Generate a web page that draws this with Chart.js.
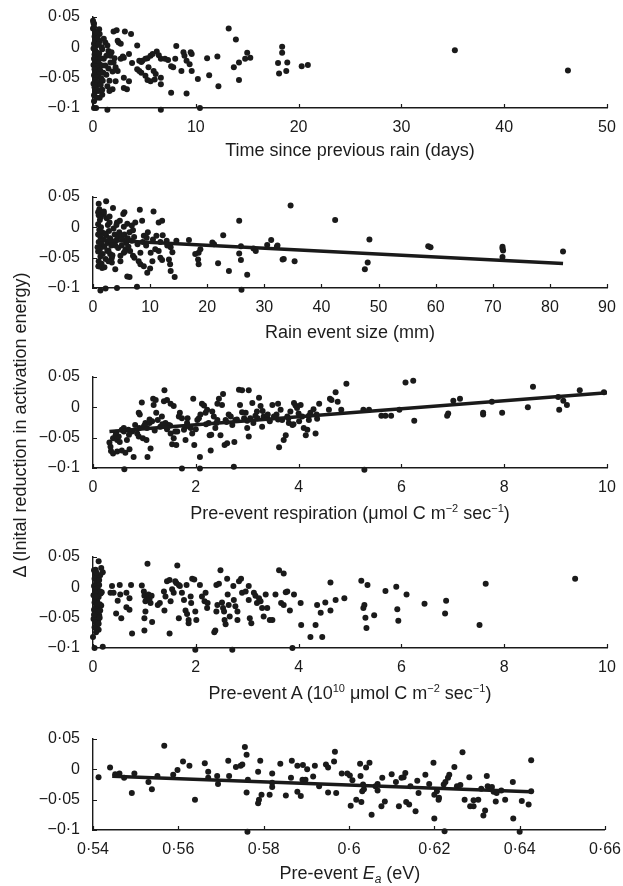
<!DOCTYPE html>
<html>
<head>
<meta charset="utf-8">
<script src="https://cdn.jsdelivr.net/npm/chart.js@4.4.1/dist/chart.umd.min.js"></script>
<style>
  html, body { margin: 0; padding: 0; background: #fff; }
  body { width: 623px; height: 886px; position: relative; overflow: hidden;
         font-family: "Liberation Sans", Arial, sans-serif; color: #1d1d1d; }
  canvas { position: absolute; left: 0; }
  .xtitle { position: absolute; left: 93px; width: 514px; height: 22px; line-height: 22px;
            text-align: center; font-size: 18px; white-space: nowrap; }
  .xtitle sup { font-size: 11px; vertical-align: 7px; line-height: 0; }
  .xtitle sub { font-size: 12px; vertical-align: -4px; line-height: 0; }
  .ytitle { position: absolute; left: -190px; top: 414px; width: 420px; height: 22px; line-height: 22px;
            text-align: center; font-size: 18px; white-space: nowrap; transform: rotate(-90deg); }
</style>
</head>
<body>
<canvas id="c1" width="623" height="180" style="top:0px"></canvas>
<canvas id="c2" width="623" height="180" style="top:180px"></canvas>
<canvas id="c3" width="623" height="180" style="top:360px"></canvas>
<canvas id="c4" width="623" height="180" style="top:540px"></canvas>
<canvas id="c5" width="623" height="180" style="top:722px"></canvas>

<div class="xtitle" style="top:139px">Time since previous rain (days)</div>
<div class="xtitle" style="top:321px">Rain event size (mm)</div>
<div class="xtitle" style="top:502px">Pre-event respiration (μmol C m<sup>−2</sup> sec<sup>−1</sup>)</div>
<div class="xtitle" style="top:682px">Pre-event A (10<sup>10</sup> μmol C m<sup>−2</sup> sec<sup>−1</sup>)</div>
<div class="xtitle" style="top:862px">Pre-event <i>E</i><sub><i>a</i></sub> (eV)</div>
<div class="ytitle">Δ (Inital reduction in activation energy)</div>

<script>
// Cinco paneles de dispersión que comparten el eje Y (reducción inicial de Ea).
var yTicks = [-0.1, -0.05, 0, 0.05];

// ---- Panel 1: días desde la lluvia anterior ----
var gapTicks = [0, 10, 20, 30, 40, 50];
var gapPoints = [
  [0.0,0.044],[0.1,0.039],[0.0,0.031],[0.2,0.025],[0.65,0.022],[0.55,0.011],[1.05,0.014],[1.2,0.008],[1.4,0.003],[0.9,-0.003],
  [1.5,-0.006],[1.3,-0.014],[1.05,-0.019],[1.7,-0.014],[2.0,0.026],[2.3,0.028],[3.1,0.026],[3.7,0.022],[2.5,0.008],[2.7,0.006],
  [2.4,0.011],[4.3,0.003],[3.5,-0.011],[3.8,-0.026],[3.0,-0.017],[2.7,-0.019],[2.9,-0.015],[2.2,-0.033],[2.0,-0.025],[2.4,-0.039],
  [2.2,-0.056],[3.0,-0.05],[3.5,-0.056],[3.3,-0.069],[3.0,-0.067],[1.9,-0.069],[1.6,-0.072],[1.4,-0.064],[0.9,-0.078],[0.65,-0.083],
  [0.55,-0.072],[1.4,-0.103],[0.1,-0.1],[0.3,-0.1],[4.5,-0.022],[4.7,-0.024],[4.8,-0.022],[5.1,-0.019],[5.3,-0.018],[5.6,-0.014],
  [5.8,-0.011],[6.2,-0.007],[6.4,-0.013],[4.3,-0.036],[4.5,-0.039],[4.7,-0.042],[5.1,-0.047],[5.3,-0.054],[5.6,-0.056],[6.0,-0.053],
  [6.1,-0.044],[6.6,-0.05],[6.6,-0.061],[5.4,-0.033],[5.9,-0.039],[6.6,-0.103],[6.6,-0.019],[7.0,-0.019],[7.3,-0.021],[7.6,-0.031],
  [7.8,-0.033],[8.0,-0.019],[8.1,0.002],[8.6,-0.039],[8.8,-0.008],[8.9,-0.014],[9.1,-0.022],[9.4,-0.028],[9.6,-0.011],[9.5,-0.008],
  [9.6,-0.039],[7.6,-0.075],[9.1,-0.076],[10.2,-0.052],[10.4,-0.1],[11.1,-0.018],[11.3,-0.046],[12.1,-0.015],[12.2,-0.064],[13.2,0.031],
  [13.9,0.013],[13.7,-0.033],[14.2,-0.025],[14.2,-0.054],[14.8,-0.019],[15.0,-0.009],[15.3,-0.017],[18.0,-0.026],[18.4,-0.009],[18.4,0.001],
  [18.9,-0.025],[18.1,-0.043],[18.8,-0.039],[20.3,-0.031],[20.9,-0.029],[35.2,-0.005],[46.2,-0.038],
  [0.05,0.04],[0.1,0.033],[0.15,0.018],[0.2,0.012],[0.1,0.006],[0.3,0.002],[0.05,-0.002],[0.25,-0.006],[0.4,-0.009],[0.15,-0.012],
  [0.35,-0.016],[0.1,-0.019],[0.5,-0.021],[0.2,-0.024],[0.6,-0.027],[0.05,-0.029],[0.3,-0.031],[0.45,-0.034],[0.15,-0.036],[0.7,-0.038],
  [0.25,-0.041],[0.55,-0.044],[0.1,-0.046],[0.35,-0.049],[0.8,-0.051],[0.2,-0.054],[0.5,-0.057],[0.05,-0.06],[0.3,-0.063],[0.15,-0.066],
  [0.4,-0.07],[0.2,-0.074],[0.1,-0.079],[0.35,-0.083],[0.1,-0.089],[0.6,-0.01],[0.75,-0.018],[0.9,-0.03],[0.65,0.01],[0.85,0.0],
  [1.0,-0.042],[0.95,-0.055],[0.75,-0.062],[0.45,0.015],[0.6,0.03],[1.2,-0.03],[1.3,-0.045],[1.5,-0.035],[1.7,-0.025],[1.9,-0.04],
  [2.1,-0.018],[1.6,-0.055],[1.8,-0.008],[0.55,0.005],[0.3,0.025],[0.9,-0.07]
];

// ---- Panel 2: tamaño del evento de lluvia ----
var sizeTicks = [0, 10, 20, 30, 40, 50, 60, 70, 80, 90];
var sizeFit = [[1, -0.0205], [82.3, -0.0595]];
var sizePoints = [
  [1.0,0.039],[2.3,0.043],[0.9,0.025],[1.9,0.022],[3.5,0.032],[5.5,0.025],[5.3,0.022],[8.2,0.029],[10.6,0.026],[8.6,0.011],
  [7.4,0.008],[11.5,0.008],[12.1,0.011],[4.2,0.008],[4.7,0.011],[6.0,0.006],[6.8,0.003],[8.9,-0.014],[9.6,-0.008],[9.4,-0.017],
  [11.1,-0.014],[12.2,-0.013],[12.9,-0.022],[14.6,-0.022],[16.8,-0.021],[20.9,-0.025],[22.8,-0.013],[25.6,0.011],[25.9,-0.031],[25.6,-0.043],
  [25.9,-0.054],[26.0,-0.103],[21.9,-0.059],[23.8,-0.072],[27.0,-0.078],[28.1,-0.035],[28.5,-0.039],[30.5,-0.029],[31.2,-0.021],[32.2,-0.032],
  [33.2,-0.053],[34.6,0.036],[35.3,-0.056],[21.2,-0.028],[18.5,-0.042],[18.4,-0.053],[18.5,-0.061],[18.8,-0.036],[17.9,-0.044],[13.6,-0.033],
  [13.9,-0.041],[13.5,-0.061],[13.6,-0.072],[14.3,-0.082],[13.3,-0.053],[11.8,-0.05],[12.1,-0.054],[11.5,-0.039],[10.9,-0.036],[10.1,-0.042],
  [10.4,-0.056],[10.0,-0.068],[9.5,-0.075],[8.9,-0.064],[8.3,-0.061],[8.0,-0.056],[7.25,-0.05],[7.0,-0.047],[7.7,-0.098],[6.0,-0.081],
  [6.4,-0.082],[4.2,-0.1],[2.2,-0.101],[1.3,-0.104],[3.9,-0.069],[3.3,-0.058],[2.7,-0.056],[8.3,-0.042],[6.5,-0.039],[5.7,-0.036],
  [5.4,-0.042],[4.8,-0.047],[3.3,-0.05],[3.0,-0.044],[2.5,-0.039],[4.8,-0.056],[1.0,-0.064],[1.2,-0.061],[1.6,-0.067],
  [42.4,0.012],[48.4,-0.02],[48.1,-0.058],[47.6,-0.069],[58.7,-0.031],[59.1,-0.033],[71.7,-0.032],[71.7,-0.035],[71.8,-0.038],[71.7,-0.049],
  [82.3,-0.04],[32.3,-0.03],[33.4,-0.052],
  [1.0,0.02],[1.2,0.012],[0.9,0.005],[1.4,0.0],[1.1,-0.004],[1.6,-0.008],[0.9,-0.012],[1.3,-0.016],[1.8,-0.02],[1.0,-0.024],
  [1.5,-0.028],[2.0,-0.032],[1.2,-0.036],[0.9,-0.04],[1.7,-0.044],[1.3,-0.048],[2.2,-0.052],[1.0,-0.056],[1.5,-0.06],[2.4,0.015],
  [2.6,0.004],[2.8,-0.006],[2.3,-0.014],[3.0,-0.018],[2.5,-0.026],[3.2,-0.03],[2.7,-0.038],[3.4,-0.046],[2.9,0.008],[3.6,-0.002],
  [3.8,-0.012],[4.0,-0.022],[4.3,-0.016],[4.6,-0.008],[4.9,-0.014],[5.2,-0.02],[5.5,-0.012],[5.8,-0.026],[6.1,-0.018],[6.4,-0.008],
  [6.8,-0.022],[7.2,-0.016],[3.9,-0.03],[4.4,-0.034],[5.0,-0.03],[5.6,-0.04],[6.2,-0.032],[1.1,0.03],[1.9,0.026],[2.9,0.018],
  [3.3,-0.025],[0.8,-0.033],[1.4,0.017],[2.1,-0.01],[0.95,-0.064],[1.2,-0.062],[2.0,-0.066],[4.1,0.004],[5.4,0.001],[7.0,-0.005],
  [7.8,-0.028],[8.7,-0.024],[9.3,-0.03],[10.5,-0.02],[11.8,-0.024],[13.0,-0.03]
];

// ---- Panel 3: respiración previa ----
var respTicks = [0, 2, 4, 6, 8, 10];
var respFit = [[0.32, -0.040], [10, 0.024]];
var respPoints = [
  [0.32,-0.058],[0.35,-0.072],[0.39,-0.076],[0.47,-0.073],[0.34,-0.065],[0.39,-0.051],[0.44,-0.046],[0.47,-0.054],[0.5,-0.048],[0.52,-0.057],
  [0.56,-0.071],[0.61,-0.102],[0.63,-0.075],[0.66,-0.054],[0.71,-0.069],[0.79,-0.082],[0.56,-0.037],[0.6,-0.034],[0.69,-0.037],[0.76,-0.04],
  [0.82,-0.029],[0.86,-0.043],[0.89,-0.048],[0.91,-0.012],[0.89,-0.009],[0.95,0.008],[0.99,-0.032],[1.02,-0.026],[1.05,-0.034],[0.97,-0.051],
  [1.04,-0.054],[1.06,-0.082],[1.12,-0.068],[1.1,-0.026],[1.15,-0.023],[1.18,0.004],[1.17,0.014],[1.22,0.012],[1.23,-0.009],[1.26,-0.021],
  [1.31,-0.032],[1.34,-0.015],[1.39,0.028],[1.38,0.01],[1.44,0.012],[1.51,0.006],[1.57,0.002],[1.41,-0.026],[1.44,-0.036],[1.47,-0.029],
  [1.51,-0.043],[1.57,-0.051],[1.54,-0.061],[1.62,-0.062],[1.64,-0.04],[1.67,-0.015],[1.69,-0.009],[1.73,-0.018],[1.73,-0.101],[1.77,-0.037],
  [1.8,-0.054],[1.83,-0.026],[1.84,-0.018],[1.9,-0.034],[1.93,-0.043],[1.95,0.014],[1.97,-0.062],[2.03,-0.021],[2.06,-0.018],[2.08,-0.082],
  [2.08,-0.101],[2.09,-0.012],[2.12,0.006],[2.16,0.003],[2.19,-0.009],[2.22,-0.004],[2.25,-0.026],[2.27,-0.046],[2.29,-0.071],[2.32,-0.007],
  [2.35,-0.015],[2.38,-0.034],[2.42,-0.021],[2.42,0.006],[2.45,0.014],[2.48,-0.046],[2.51,0.004],[2.53,0.022],[2.56,-0.062],[2.58,-0.021],
  [2.61,-0.059],[2.64,-0.012],[2.68,-0.015],[2.71,-0.029],[2.74,-0.098],[2.75,-0.057],[2.77,-0.021],[2.84,0.029],[2.86,0.004],[2.9,0.028],
  [3.03,0.028],[2.97,-0.009],[2.94,-0.018],[3.0,-0.034],[3.03,-0.048],[3.06,-0.018],[3.1,0.007],[3.12,-0.026],[3.16,-0.014],[3.19,-0.007],
  [3.23,0.016],[3.26,0.002],[3.29,-0.032],[3.32,-0.015],[3.39,-0.018],[3.44,-0.023],[3.49,0.004],[3.52,-0.015],[3.57,-0.012],[3.6,0.006],
  [3.62,-0.066],[3.65,-0.004],[3.68,-0.021],[3.71,-0.054],[3.75,-0.046],[3.78,-0.015],[3.81,-0.026],[3.84,-0.007],[3.88,-0.029],[3.91,0.007],
  [3.94,0.003],[3.97,-0.001],[4.01,-0.023],[4.04,0.004],[4.07,-0.015],[4.1,-0.034],[4.14,-0.046],[4.17,-0.037],[4.2,-0.021],[4.23,-0.009],
  [4.29,-0.003],[4.33,-0.043],[4.36,-0.019],[4.4,0.006],[4.35,-0.012],[4.59,-0.004],[4.61,0.014],
  [4.64,0.012],[4.72,0.025],[4.76,0.009],[4.93,0.039],[4.83,-0.004],[5.26,-0.004],[5.37,-0.004],[5.28,-0.103],[5.61,-0.014],[5.69,-0.014],
  [5.8,-0.014],[5.96,-0.004],[6.08,0.041],[6.23,0.044],[6.25,-0.022],[6.89,-0.014],[6.91,-0.01],[7.01,0.011],[7.14,0.014],[7.59,-0.009],
  [7.59,-0.012],[7.76,0.009],[7.96,-0.009],[8.46,0.0],[8.56,0.034],[9.05,0.017],[9.07,-0.004],[9.15,0.011],[9.22,0.004],[9.47,0.028],
  [9.94,0.025],
  [0.9,-0.034],[1.0,-0.03],[1.2,-0.038],[1.35,-0.028],[1.5,-0.03],[1.6,-0.04],[1.8,-0.032],[2.0,-0.036],[2.2,-0.028],[2.4,-0.026],
  [2.6,-0.024],[2.8,-0.02],[3.0,-0.022],[3.2,-0.018],[3.4,-0.012],[3.6,-0.02],[3.8,-0.018],[4.0,-0.01],[4.2,-0.014],[0.7,-0.045],
  [0.6,-0.04],[0.45,-0.042],[1.1,-0.02],[2.3,-0.045],[2.9,-0.008],[3.3,-0.006],[3.9,-0.028]
];

// ---- Panel 4: A previa ----
var aTicks = [0, 2, 4, 6, 8, 10];
var aPoints = [
  [0.11,0.043],[0.16,0.032],[0.19,0.025],[0.05,0.029],[0.19,-0.098],[0.03,-0.1],[0.0,-0.082],[0.37,0.002],[0.52,0.004],[0.74,0.004],
  [0.34,-0.009],[0.4,-0.009],[0.53,-0.012],[0.48,-0.022],[0.65,-0.009],[0.71,-0.018],[0.65,-0.033],[0.71,-0.037],[0.45,-0.043],[0.55,-0.051],
  [0.76,-0.076],[0.95,0.003],[0.99,-0.007],[1.0,-0.014],[1.02,-0.023],[1.05,-0.017],[1.08,-0.012],[1.1,-0.019],[1.12,-0.026],[1.14,-0.014],
  [1.06,0.039],[1.02,-0.04],[1.0,-0.051],[1.0,-0.071],[1.15,-0.057],[1.26,-0.029],[1.3,-0.026],[1.38,-0.007],[1.41,-0.015],[1.44,0.01],
  [1.49,0.012],[1.39,-0.038],[1.51,-0.023],[1.49,-0.076],[1.54,-0.003],[1.57,-0.009],[1.64,0.036],[1.6,0.01],[1.62,0.007],[1.67,0.004],
  [1.69,0.002],[1.67,-0.051],[1.73,-0.009],[1.77,-0.021],[1.8,-0.038],[1.83,-0.044],[1.86,-0.054],[1.86,-0.059],[1.82,0.004],[1.93,0.014],
  [1.97,0.013],[1.99,-0.103],[1.9,-0.015],[1.91,-0.026],[1.99,-0.04],[2.01,-0.054],[2.08,0.004],[2.12,-0.015],[2.17,-0.023],[2.19,-0.009],
  [2.22,-0.034],[2.23,-0.026],[2.36,-0.074],[2.38,-0.071],[2.4,-0.04],[2.42,-0.029],[2.4,0.004],[2.45,0.006],[2.48,0.028],[2.51,-0.025],
  [2.53,-0.034],[2.55,-0.04],[2.56,-0.054],[2.58,-0.061],[2.61,0.014],[2.62,-0.012],[2.64,-0.029],[2.66,-0.048],[2.71,-0.103],[2.73,0.002],
  [2.74,-0.021],[2.77,-0.031],[2.81,-0.04],[2.81,-0.054],[2.84,0.01],[2.88,0.014],[2.9,-0.009],[2.97,-0.007],[3.03,0.002],[3.03,-0.021],
  [3.05,-0.051],[3.08,-0.059],[3.13,-0.009],[3.16,-0.014],[3.19,-0.026],[3.23,-0.018],[3.26,-0.023],[3.29,-0.034],[3.32,-0.048],[3.36,-0.012],
  [3.39,-0.034],[3.44,-0.054],[3.49,-0.054],[3.55,-0.012],[3.62,0.028],[3.71,0.023],[3.66,-0.026],[3.71,-0.029],[3.75,-0.008],[3.78,-0.007],
  [3.91,-0.012],[3.88,-0.1],[3.83,-0.038],[4.04,-0.026],[4.05,-0.062],[4.23,-0.082],[4.36,-0.029],[4.33,-0.062],[4.43,-0.042],[4.46,-0.082],
  [4.52,-0.025],[4.62,0.008],[4.62,-0.038],[4.72,-0.021],[4.89,-0.018],[5.26,-0.034],[5.28,-0.029],[5.3,-0.05],[5.32,-0.067],[5.22,0.011],
  [5.34,0.004],[5.47,-0.046],[5.69,-0.006],[5.9,0.001],[5.92,-0.036],[5.94,-0.055],[6.1,-0.012],[6.45,-0.027],[6.87,-0.022],[6.85,-0.043],
  [7.52,-0.062],[7.64,0.006],[9.38,0.014],
  [0.02,0.028],[0.05,0.022],[0.08,0.018],[0.03,0.014],[0.1,0.01],[0.06,0.007],[0.12,0.004],[0.02,0.002],[0.09,-0.001],[0.04,-0.004],
  [0.14,-0.007],[0.07,-0.01],[0.01,-0.013],[0.11,-0.016],[0.05,-0.019],[0.08,-0.022],[0.03,-0.025],[0.13,-0.028],[0.06,-0.031],[0.1,-0.034],
  [0.02,-0.037],[0.09,-0.04],[0.04,-0.043],[0.12,-0.046],[0.07,-0.049],[0.01,-0.052],[0.1,-0.055],[0.05,-0.058],[0.08,-0.062],[0.03,-0.066],
  [0.11,-0.07],[0.06,-0.074],[0.15,-0.01],[0.17,-0.008],[0.14,0.02],[0.16,-0.03],[0.13,-0.05],[0.07,0.024],[0.12,0.012],[0.04,-0.008],
  [0.09,-0.027],[0.02,-0.045],[0.11,-0.06],[0.06,-0.015],[0.14,-0.038]
];

// ---- Panel 5: Ea previa ----
var eaTicks = [0.54, 0.56, 0.58, 0.6, 0.62, 0.64, 0.66];
var eaFit = [[0.5445, -0.0115], [0.6425, -0.037]];
var eaPoints = [
  [0.5413,-0.013],[0.544,0.003],[0.5452,-0.008],[0.5462,-0.007],[0.5473,-0.014],[0.5491,-0.039],[0.5497,-0.007],[0.553,-0.021],[0.5538,-0.033],[0.5551,-0.011],
  [0.5567,0.039],[0.5588,-0.009],[0.5598,-0.001],[0.5611,0.013],[0.5626,0.006],[0.5639,-0.05],[0.5662,0.01],[0.567,-0.004],[0.567,-0.014],[0.5691,-0.011],
  [0.5693,-0.024],[0.5717,0.014],[0.5719,-0.011],[0.5735,0.004],[0.5746,0.006],[0.575,0.008],[0.5756,0.037],[0.576,0.024],[0.576,-0.038],[0.5763,-0.017],
  [0.5762,-0.103],[0.5787,-0.004],[0.5789,-0.05],[0.5787,-0.056],[0.5792,0.014],[0.5795,-0.042],[0.5814,-0.042],[0.582,-0.007],[0.582,-0.022],[0.582,-0.029],
  [0.5839,0.009],[0.5852,-0.043],[0.5864,-0.014],[0.5866,0.014],[0.5879,0.006],[0.5879,-0.037],[0.5887,-0.044],[0.5891,-0.017],[0.5892,0.007],[0.5898,-0.017],
  [0.5902,0.0],[0.5916,-0.012],[0.592,0.006],[0.593,-0.028],[0.5946,0.008],[0.5951,0.003],[0.5951,-0.038],[0.5965,0.013],[0.5967,0.029],[0.597,-0.039],
  [0.5983,-0.007],[0.5996,-0.007],[0.6002,-0.01],[0.6004,-0.06],[0.6008,-0.018],[0.6017,-0.05],[0.6026,0.009],[0.6027,-0.011],[0.6029,-0.054],[0.6031,-0.036],
  [0.6033,-0.025],[0.6035,-0.033],[0.604,0.003],[0.6048,0.011],[0.6053,-0.075],[0.6062,-0.028],[0.6067,-0.024],[0.6067,-0.035],[0.6078,-0.014],[0.6084,-0.053],
  [0.6076,-0.061],[0.61,-0.008],[0.611,-0.021],[0.6117,-0.061],[0.6123,-0.014],[0.6128,-0.013],[0.6132,-0.006],[0.6134,-0.054],[0.6141,-0.058],[0.6144,-0.028],
  [0.6156,-0.069],[0.616,-0.019],[0.6163,-0.039],[0.6179,-0.009],[0.6188,-0.024],[0.6198,0.011],[0.62,-0.042],[0.62,-0.081],[0.6206,-0.036],[0.621,-0.05],
  [0.6211,-0.047],[0.6224,-0.102],[0.6222,-0.025],[0.6226,-0.021],[0.6232,-0.014],[0.6235,-0.009],[0.6247,0.004],[0.6253,-0.028],[0.6261,-0.026],[0.6266,0.028],
  [0.6271,-0.05],[0.6282,-0.013],[0.6284,-0.061],[0.6292,-0.061],[0.6292,-0.051],[0.6303,-0.05],[0.631,-0.032],[0.6315,-0.076],[0.6319,-0.068],[0.6323,-0.011],
  [0.6325,-0.028],[0.6331,-0.032],[0.6335,-0.029],[0.6339,-0.037],[0.6344,-0.053],[0.6346,-0.039],[0.6357,-0.035],[0.6366,-0.05],[0.6384,-0.021],[0.6385,-0.081],
  [0.64,-0.103],[0.6405,-0.052],[0.6421,-0.058],[0.6427,-0.036],[0.6427,0.015]
];

var INK = '#1a1a1a';

function fmtTick(v) {
  return String(Math.round(v * 1000) / 1000).replace('-', '\u2212').replace('.', '\u00b7');
}
function asXY(list) { return list.map(function (p) { return { x: p[0], y: p[1] }; }); }

// Marcas de graduación hacia adentro, como en la figura original.
var innerTicks = {
  id: 'innerTicks',
  afterDatasetsDraw: function (chart) {
    var ctx = chart.ctx, a = chart.chartArea, sx = chart.scales.x, sy = chart.scales.y;
    ctx.save();
    ctx.strokeStyle = INK;
    ctx.lineWidth = 1.2;
    ctx.beginPath();
    sx.ticks.forEach(function (t) {
      var px = Math.round(sx.getPixelForValue(t.value)) + 0.5;
      ctx.moveTo(px, a.bottom); ctx.lineTo(px, a.bottom - 4);
    });
    sy.ticks.forEach(function (t) {
      var py = Math.round(sy.getPixelForValue(t.value)) + 0.5;
      ctx.moveTo(a.left, py); ctx.lineTo(a.left + 4, py);
    });
    ctx.stroke();
    ctx.restore();
  }
};

function makePanel(id, points, fit, xTicks) {
  var datasets = [{
    type: 'scatter', data: asXY(points), backgroundColor: INK, borderWidth: 0,
    pointRadius: 3, pointHoverRadius: 3, clip: false, order: 2
  }];
  if (fit) {
    datasets.push({
      type: 'line', data: asXY(fit), borderColor: INK, borderWidth: 3.5,
      pointRadius: 0, fill: false, order: 1
    });
  }
  var tickFont = { family: '"Liberation Sans", Arial, sans-serif', size: 16 };
  new Chart(document.getElementById(id).getContext('2d'), {
    type: 'scatter',
    data: { datasets: datasets },
    options: {
      responsive: false, animation: false, events: [],
      layout: { padding: { left: 0, right: 16, top: 17, bottom: 0 } },
      plugins: { legend: { display: false }, tooltip: { enabled: false } },
      scales: {
        x: {
          type: 'linear', min: xTicks[0], max: xTicks[xTicks.length - 1],
          afterBuildTicks: function (s) { s.ticks = xTicks.map(function (v) { return { value: v }; }); },
          afterFit: function (s) { s.height = 72; },
          grid: { display: false },
          border: { display: true, color: INK, width: 1.4 },
          ticks: { color: INK, font: tickFont, padding: 2, maxRotation: 0, autoSkip: false, callback: fmtTick }
        },
        y: {
          type: 'linear', min: yTicks[0], max: yTicks[yTicks.length - 1],
          afterBuildTicks: function (s) { s.ticks = yTicks.map(function (v) { return { value: v }; }); },
          afterFit: function (s) { s.width = 93; },
          grid: { display: false },
          border: { display: true, color: INK, width: 1.4 },
          ticks: { color: INK, font: tickFont, padding: 5, autoSkip: false, callback: fmtTick }
        }
      }
    },
    plugins: [innerTicks]
  });
}

makePanel('c1', gapPoints, null, gapTicks);
makePanel('c2', sizePoints, sizeFit, sizeTicks);
makePanel('c3', respPoints, respFit, respTicks);
makePanel('c4', aPoints, null, aTicks);
makePanel('c5', eaPoints, eaFit, eaTicks);
</script>
</body>
</html>
